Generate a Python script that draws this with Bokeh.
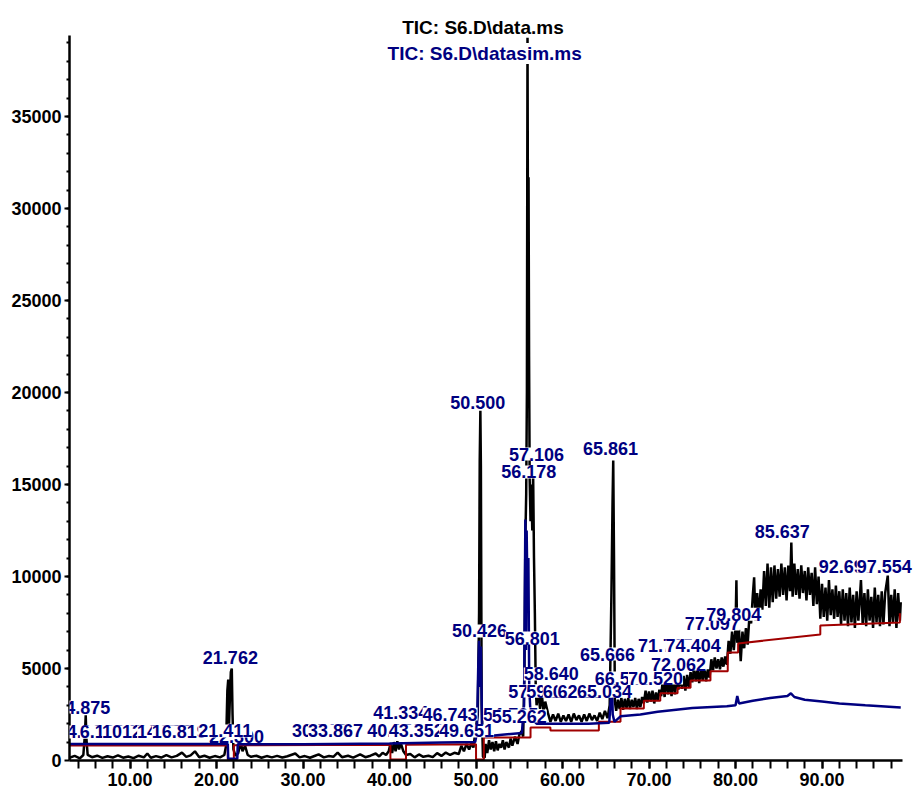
from bokeh.plotting import figure
from bokeh.models import Range1d, FixedTicker, ColumnDataSource, LabelSet, Label
from bokeh.core.properties import value
from bokeh.embed import file_html
from bokeh.resources import INLINE

# ---------------- data ----------------
title_main = "TIC: S6.D\\data.ms"
title_sim = "TIC: S6.D\\datasim.ms"

x_major = [10, 20, 30, 40, 50, 60, 70, 80, 90]
x_tick_labels = ["10.00", "20.00", "30.00", "40.00", "50.00", "60.00", "70.00", "80.00", "90.00"]
y_major = [0, 5000, 10000, 15000, 20000, 25000, 30000, 35000]
y_tick_labels = ["0", "5000", "10000", "15000", "20000", "25000", "30000", "35000"]

# TIC data.ms (black)
tic_rt = [
    3.0, 3.6, 4.2, 4.6, 4.78, 4.875, 4.97, 5.1, 5.6, 6.2, 6.8, 7.4, 8.0, 8.6, 9.2, 9.8, 10.4, 11.0, 11.6, 12.0,
    12.4, 13.0, 13.6, 14.2, 14.8, 15.4, 16.0, 16.5, 17.0, 17.5, 18.0, 18.6, 19.2, 19.8, 20.4, 20.9,
    21.1, 21.25, 21.35, 21.45, 21.55, 21.65, 21.762, 21.85, 21.95, 22.2, 22.5, 22.8, 23.0, 23.3, 23.6, 24.0,
    24.6, 25.2, 25.8, 26.4, 27.0, 27.6, 28.2, 29.1, 29.6, 30.2, 30.8, 31.4, 31.8, 32.4, 33.0, 33.5, 34.0, 34.5,
    35.2, 35.8, 36.6, 37.2, 37.8, 38.4, 38.8, 39.2, 39.6, 39.9, 40.1, 40.3, 40.5, 40.7, 40.9, 41.1, 41.3, 41.6,
    41.9, 42.4, 42.9, 43.4, 43.9, 44.5, 45.0, 45.5, 46.0, 46.5, 47.0, 47.5, 48.0, 48.3, 48.6, 48.9, 49.2, 49.5,
    49.7, 49.9,
    50.2, 50.35, 50.426, 50.5, 50.56, 50.65, 50.8, 51.0, 51.1, 51.3, 51.5, 51.7, 51.9, 52.1, 52.3, 52.5, 52.7,
    52.9, 53.1, 53.3, 53.5, 53.8, 54.0, 54.2, 54.5, 54.8, 55.0, 55.26, 55.45,
    55.6, 55.7, 55.8, 55.88, 55.95, 56.02, 56.07, 56.13, 56.2, 56.3, 56.4, 56.5, 56.6, 56.7, 56.8, 56.9, 57.0,
    57.2, 57.4, 57.6, 57.8, 58.0, 58.3,
    58.6, 58.9, 59.2, 59.5, 59.8, 60.1, 60.4, 60.7, 61.0, 61.3, 61.6, 61.9, 62.2, 62.5, 62.8, 63.1, 63.4, 63.7,
    64.0, 64.3, 64.6, 64.9, 65.2,
    65.45, 65.65, 65.78, 65.861, 65.95, 66.05, 66.2,
    66.4, 66.6, 66.8, 67.0, 67.2, 67.4, 67.6, 67.8, 68.0, 68.2, 68.4, 68.6, 68.8, 69.0, 69.2, 69.4, 69.6, 69.8,
    70.0, 70.2, 70.4, 70.6, 70.8, 71.0, 71.2, 71.4, 71.6, 71.8, 72.0, 72.2, 72.4, 72.6, 72.8, 73.0, 73.2, 73.4,
    73.6, 73.8, 74.0, 74.2, 74.4, 74.6, 74.8, 75.0, 75.2, 75.4, 75.6, 75.8, 76.0, 76.2, 76.4, 76.6, 76.8, 77.0,
    77.2, 77.4, 77.6, 77.8, 78.0, 78.2, 78.4, 78.6, 78.8, 79.0, 79.2, 79.4, 79.6, 79.8, 80.0, 80.1, 80.2, 80.4,
    80.6, 80.8, 81.0, 81.2, 81.4, 81.6, 81.8, 82.0, 82.15, 82.3, 82.5, 82.7, 82.9, 83.1, 83.3, 83.5, 83.7, 83.9,
    84.1, 84.3, 84.5, 84.7, 84.9, 85.1, 85.3, 85.5, 85.7, 85.9, 86.1, 86.3, 86.45, 86.6, 86.8, 87.0, 87.2, 87.4,
    87.6, 87.8, 88.0, 88.2, 88.4, 88.6, 88.8, 89.0, 89.2, 89.4, 89.6, 89.8, 90.0, 90.2, 90.4, 90.6, 90.8, 91.0,
    91.2, 91.4, 91.6, 91.8, 92.0, 92.2, 92.4, 92.6, 92.8, 93.0, 93.2, 93.4, 93.6, 93.8, 94.0, 94.2, 94.5, 94.7,
    94.9, 95.1, 95.3, 95.5, 95.7, 95.9, 96.1, 96.3, 96.5, 96.7, 96.9, 97.1, 97.3, 97.6, 97.8, 98.0, 98.2, 98.4,
    98.6, 98.8, 99.0, 99.1,
]
tic_abund = [
    150, 250, 120, 300, 1400, 2450, 1100, 300, 180, 260, 140, 230, 160, 280, 150, 220, 130, 260, 170, 380,
    150, 240, 160, 290, 170, 250, 430, 200, 280, 500, 180, 260, 150, 240, 170, 300,
    800, 3800, 4400, 2000, 3500, 4800, 5000, 2500, 600, 250, 400, 1000, 500, 800, 300, 200,
    260, 150, 240, 170, 250, 160, 230, 380, 170, 240, 150, 260, 330, 170, 240, 200, 430, 180,
    260, 160, 330, 180, 260, 380, 220, 420, 300, 500, 900, 400, 1000, 500, 1050, 600, 950, 500,
    300, 350, 170, 330, 200, 260, 180, 400, 250, 430, 300, 420, 350, 800, 500, 900, 600, 950,
    700, 1500,
    2500, 8000, 16300, 19000, 16000, 3000, 200, 150, 900, 400, 1100, 600, 1000, 500, 1050, 550, 900,
    700, 1100, 600, 1000, 700, 1200, 800, 1300, 900, 1400, 1600, 1300,
    5000, 12000, 14500, 20000, 39500, 25000, 31700, 22000, 15300, 13000, 15000, 12500, 15600, 11000, 8000, 4000, 3000,
    3800, 2800, 3600, 2700, 3200, 2600,
    2100, 2500, 2150, 2550, 2100, 2450, 2150, 2500, 2100, 2550, 2200, 2450, 2100, 2500, 2150, 2550, 2200, 2450,
    2150, 2600, 2250, 2700, 2300,
    3000, 9000, 14000, 16300, 11000, 3200, 2700,
    3300, 2800, 3400, 2750, 3350, 2850, 3400, 2800, 3300, 2900, 3400, 2800, 3350, 2900, 3450, 3100, 3800, 3150,
    3750, 3200, 3800, 3100, 3700, 3250, 3850, 3500, 4400, 3450, 4500, 3600, 4300, 3500, 4450, 3600, 4400, 3850,
    4700, 3900, 4600, 3800, 4650, 3950, 4800, 4250, 5050, 4300, 4950, 4200, 5000, 4350, 5050, 4300, 4950, 4500,
    5500, 4900, 5600, 5000, 5500, 4950, 5600, 5100, 5650, 5200, 6500, 5800, 7000, 6000, 7200, 9800, 6400, 7100,
    5400, 7000, 6100, 7200, 6300, 7800, 7450, 9000, 9950, 7600, 9100, 7800, 9300, 8200, 10300, 8400, 10700, 8300,
    10500, 8600, 10600, 8800, 10400, 8900, 10700, 9000, 10500, 8700, 10600, 9200, 11850, 8900, 10700, 9000, 10400, 8800,
    10600, 9100, 10300, 8700, 10500, 9000, 10200, 8400, 10500, 8500, 10000, 7700, 9600, 7800, 9400, 7600, 9800, 7900,
    9300, 7700, 9500, 7800, 9200, 7400, 9300, 7600, 9100, 7300, 9400, 7500, 9000, 7200, 9200, 7600, 9800, 7400,
    9100, 7300, 9300, 7600, 8900, 7200, 9400, 7500, 9000, 7300, 9200, 7400, 9100, 10050, 7300, 9000, 7500, 9300,
    7200, 9100, 7600, 8600,
]

# TIC datasim.ms (blue)
sim_rt = [3.0, 21.3, 21.35, 22.4, 22.45, 30.0, 40.0, 46.0, 49.9, 50.1, 50.25, 50.35, 50.43, 50.55, 50.7,
          51.0, 53.0, 55.3, 55.55, 55.7, 55.78, 55.85, 55.95, 56.05, 56.15, 56.3, 56.6, 57.0, 60.0, 63.0,
          65.4, 65.6, 65.7, 65.8, 66.0, 66.7, 69.0, 71.0, 75.0, 79.0, 80.0, 80.2, 80.4, 82.0, 84.0,
          86.0, 86.4, 86.8, 88.0, 90.0, 92.0, 95.0, 99.1]
sim_abund = [900, 900, 100, 100, 880, 880, 920, 980, 1000, 1500, 5000, 6500, 4000, 6200, 1800,
             1300, 1400, 1500, 3000, 13100, 6000, 12500, 9000, 11000, 4000, 2500, 2200, 2000, 2000, 2000,
             2050, 3500, 4800, 2500, 2100, 2400, 2500, 2650, 2850, 2950, 3000, 3500, 3100, 3250, 3400,
             3500, 3650, 3450, 3300, 3200, 3100, 3000, 2880]

# integration baseline (dark red)
base_rt = [3.0, 21.3, 21.3, 22.0, 22.0, 40.1, 40.1, 41.9, 41.9, 50.0, 50.0, 50.9, 50.9, 56.3, 56.3,
           58.6, 58.6, 64.2, 64.2, 66.7, 66.7, 69.4, 69.4, 71.3, 71.3, 73.3, 73.3, 74.8, 74.8, 77.1,
           77.1, 79.1, 79.1, 80.3, 80.3, 89.8, 89.8, 99.0, 99.0]
base_abund = [820, 820, 60, 60, 830, 850, 60, 60, 860, 880, 60, 60, 1250, 1250, 1800,
              1800, 1630, 1630, 2100, 2100, 2830, 2830, 3250, 3250, 3650, 3650, 3950, 3950, 4350, 4350,
              4850, 4850, 5870, 5870, 6360, 6850, 7340, 7500, 8000]

# peak labels (text, position in retention time, abundance of label baseline)
peak_text = ["4.875", "4.961", "6.103", "10.121", "12.147", "14.193", "16.819", "22.300", "21.411", "21.762",
             "30.518", "33.867", "41.334", "46.743", "40.152", "43.352", "49.651", "50.426", "50.500",
             "54.705", "55.262", "57.412", "59.186", "60.867", "62.339", "65.034", "58.640", "56.801",
             "57.106", "56.178", "66.548", "70.520", "72.062", "71.715", "74.404", "65.666", "77.097",
             "79.804", "65.861", "85.637", "92.695", "97.554"]
peak_rt = [5.1, 5.3, 6.8, 9.95, 12.25, 14.0, 15.7, 22.3, 21.0, 21.6,
           31.9, 33.76, 41.3, 47.0, 40.6, 43.1, 48.9, 50.4, 50.2,
           54.0, 55.0, 56.9, 59.0, 60.9, 62.6, 64.85, 58.7, 56.5,
           57.0, 56.1, 66.9, 70.75, 73.4, 71.9, 75.1, 65.2, 77.3,
           79.8, 65.55, 85.4, 92.8, 97.2]
peak_y = [2550, 1200, 1200, 1200, 1200, 1200, 1200, 950, 1250, 5270,
          1250, 1250, 2250, 2170, 1250, 1250, 1250, 6690, 19080,
          2170, 2065, 3420, 3420, 3420, 3420, 3420, 4350, 6300,
          16300, 15330, 4130, 4130, 4890, 5870, 5870, 5430, 7070,
          7600, 16580, 12070, 10200, 10200]

# title anchor positions (data coords)
title_x = [50.8, 51.0]
title_y = [39840, 38420]

# ---------------- figure ----------------
p = figure(width=914, height=795, output_backend="svg", toolbar_location=None,
           x_range=Range1d(3.0, 100.69), y_range=Range1d(0, 41300),
           min_border_left=69, min_border_right=0, min_border_top=0, min_border_bottom=35)
p.outline_line_color = None
p.grid.visible = False
p.background_fill_color = "white"
p.border_fill_color = "white"

NAVY = "#000080"
RED = "#a00000"
AX_FONT = "Liberation Sans"

xa = p.xaxis[0]
xa.ticker = FixedTicker(ticks=x_major, minor_ticks=list(range(4, 100, 2)))
xa.major_label_overrides = {t: s for t, s in zip(x_major, x_tick_labels)}
xa.bounds = (3.0, 99.3)
ya = p.yaxis[0]
ya.ticker = FixedTicker(ticks=y_major, minor_ticks=list(range(1000, 40000, 1000)))
ya.major_label_overrides = {t: s for t, s in zip(y_major, y_tick_labels)}
ya.bounds = (0, 39400)

for ax in (xa, ya):
    ax.axis_line_color = "black"
    ax.axis_line_width = 2.5
    ax.major_tick_line_color = "black"
    ax.minor_tick_line_color = "black"
    ax.major_tick_line_width = 2
    ax.minor_tick_line_width = 2
    ax.major_tick_in = 0
    ax.minor_tick_in = 0
    ax.major_label_text_font = AX_FONT
    ax.major_label_text_font_size = "18px"
    ax.major_label_text_font_style = "bold"
    ax.major_label_text_color = "black"

xa.major_tick_out = 8
xa.minor_tick_out = 8
xa.major_label_standoff = 4
ya.major_tick_out = 5
ya.minor_tick_out = 3
ya.major_label_standoff = 3

p.line(tic_rt, tic_abund, line_color="black", line_width=2.5)
p.line(base_rt, base_abund, line_color=RED, line_width=2)
p.line(sim_rt, sim_abund, line_color=NAVY, line_width=2.5)

lab_src = ColumnDataSource(dict(x=peak_rt, y=peak_y, text=peak_text))
labels = LabelSet(x="x", y="y", text="text", source=lab_src,
                  text_align="center", text_baseline="alphabetic",
                  text_font=value("Liberation Sans"), text_font_size=value("18px"),
                  text_font_style="bold", text_color=NAVY,
                  background_fill_color="white")
p.add_layout(labels)

t1 = Label(x=title_x[0], y=title_y[0], text=title_main, text_align="center",
           text_baseline="alphabetic", text_font=AX_FONT, text_font_size="19px",
           text_font_style="bold", text_color="black", background_fill_color="white")
t2 = Label(x=title_x[1], y=title_y[1], text=title_sim, text_align="center",
           text_baseline="alphabetic", text_font=AX_FONT, text_font_size="19px",
           text_font_style="bold", text_color=NAVY, background_fill_color="white")
p.add_layout(t1)
p.add_layout(t2)

open("out.html", "w").write(file_html(p, INLINE))
